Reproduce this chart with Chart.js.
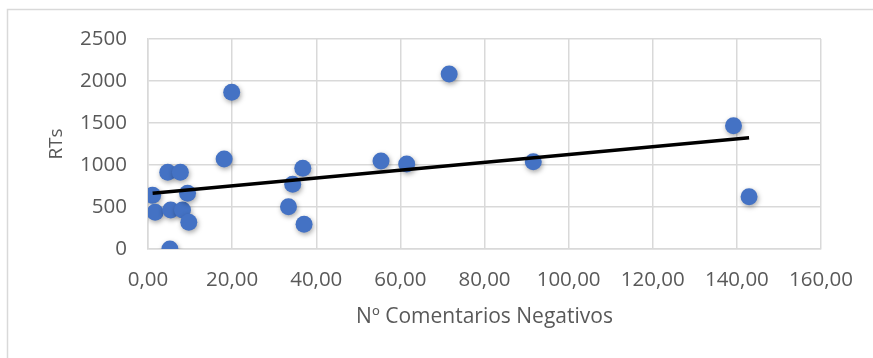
<!DOCTYPE html>
<html>
<head>
<meta charset="utf-8">
<script src="https://cdn.jsdelivr.net/npm/chart.js@4/dist/chart.umd.min.js"></script>
<style>
  html, body { margin: 0; padding: 0; background: #ffffff; }
  #wrap { position: relative; width: 873px; height: 358px; }
</style>
</head>
<body>
<div id="wrap"><canvas id="c" width="873" height="358"></canvas></div>
<script>
// Negative comments per account vs. retweets
const negComments = [1.1, 1.7, 4.7, 7.7, 5.4, 8.2, 9.4, 9.7, 5.2, 18.1, 19.9,
                     36.8, 34.4, 33.4, 37.1, 55.4, 61.5, 71.6, 91.6, 139.2, 142.9];
const retweets    = [640, 437, 913, 913, 464, 464, 663, 318, 0, 1071, 1865,
                     960, 770, 504, 294, 1048, 1012, 2083, 1040, 1468, 623];

const xTicks = [0, 20, 40, 60, 80, 100, 120, 140, 160];
const yTicks = [0, 500, 1000, 1500, 2000, 2500];

const xTitle = 'Nº Comentarios Negativos';
const yTitle = 'RTs';

const points = negComments.map((x, i) => ({ x: x, y: retweets[i] }));

// Least-squares linear trend over the data
function linearTrend(xs, ys) {
  const n = xs.length;
  const mx = xs.reduce((a, b) => a + b, 0) / n;
  const my = ys.reduce((a, b) => a + b, 0) / n;
  let sxy = 0, sxx = 0;
  for (let i = 0; i < n; i++) {
    sxy += (xs[i] - mx) * (ys[i] - my);
    sxx += (xs[i] - mx) * (xs[i] - mx);
  }
  const slope = sxy / sxx;
  const intercept = my - slope * mx;
  const x0 = Math.min(...xs), x1 = Math.max(...xs);
  return [{ x: x0, y: intercept + slope * x0 }, { x: x1, y: intercept + slope * x1 }];
}
const trend = linearTrend(negComments, retweets);

const FONT = '"Open Sans", Lato, sans-serif';
const TEXT = '#595959';
const GRID = '#d9d9d9';

// Light frame around the chart
const framePlugin = {
  id: 'frame',
  beforeDraw(chart) {
    const ctx = chart.ctx;
    ctx.save();
    ctx.strokeStyle = GRID;
    ctx.lineWidth = 1.5;
    ctx.strokeRect(7.5, 9.5, 900, 400);
    ctx.restore();
  }
};

// Soft drop shadow under the markers
const shadowPlugin = {
  id: 'markerShadow',
  beforeDatasetDraw(chart, args) {
    if (args.index !== 0) return;
    const ctx = chart.ctx;
    ctx.save();
    ctx.shadowColor = 'rgba(0,0,0,0.35)';
    ctx.shadowBlur = 5;
    ctx.shadowOffsetX = 1;
    ctx.shadowOffsetY = 2;
  },
  afterDatasetDraw(chart, args) {
    if (args.index !== 0) return;
    chart.ctx.restore();
  }
};

new Chart(document.getElementById('c'), {
  type: 'scatter',
  data: {
    datasets: [
      {
        label: yTitle,
        data: points,
        backgroundColor: '#4472C4',
        borderColor: '#4472C4',
        borderWidth: 0,
        pointRadius: 8.5,
        pointHoverRadius: 8.5,
        order: 1
      },
      {
        type: 'line',
        label: 'Tendencia',
        data: trend,
        borderColor: '#000000',
        borderWidth: 3.5,
        pointRadius: 0,
        fill: false,
        order: 0
      }
    ]
  },
  options: {
    responsive: false,
    animation: false,
    devicePixelRatio: 1,
    layout: { padding: { top: 39, right: 52, bottom: 0, left: 0 } },
    plugins: {
      legend: { display: false },
      tooltip: { enabled: false }
    },
    scales: {
      x: {
        type: 'linear',
        min: xTicks[0],
        max: xTicks[xTicks.length - 1],
        afterBuildTicks(scale) { scale.ticks = xTicks.map(v => ({ value: v })); },
        afterFit(scale) { scale.height = 109; },
        grid: { color: GRID, lineWidth: 1.5, drawTicks: false },
        border: { color: GRID, width: 1.5 },
        ticks: {
          color: TEXT,
          padding: 19,
          font: { family: FONT, size: 20.5 },
          callback: v => v.toFixed(2).replace('.', ',')
        },
        title: {
          display: true,
          text: xTitle,
          color: TEXT,
          font: { family: FONT, size: 21 },
          padding: { top: 0, bottom: 28 }
        }
      },
      y: {
        type: 'linear',
        min: yTicks[0],
        max: yTicks[yTicks.length - 1],
        afterBuildTicks(scale) { scale.ticks = yTicks.map(v => ({ value: v })); },
        afterFit(scale) { scale.width = 148; },
        grid: { color: GRID, lineWidth: 1.5, drawTicks: false },
        border: { color: GRID, width: 1.5 },
        ticks: {
          color: TEXT,
          padding: 21,
          font: { family: FONT, size: 20.5 },
          callback: v => String(v)
        },
        title: {
          display: true,
          text: yTitle,
          color: TEXT,
          font: { family: FONT, size: 19 },
          padding: { top: 45, bottom: 0 }
        }
      }
    }
  },
  plugins: [framePlugin, shadowPlugin]
});
</script>
</body>
</html>
